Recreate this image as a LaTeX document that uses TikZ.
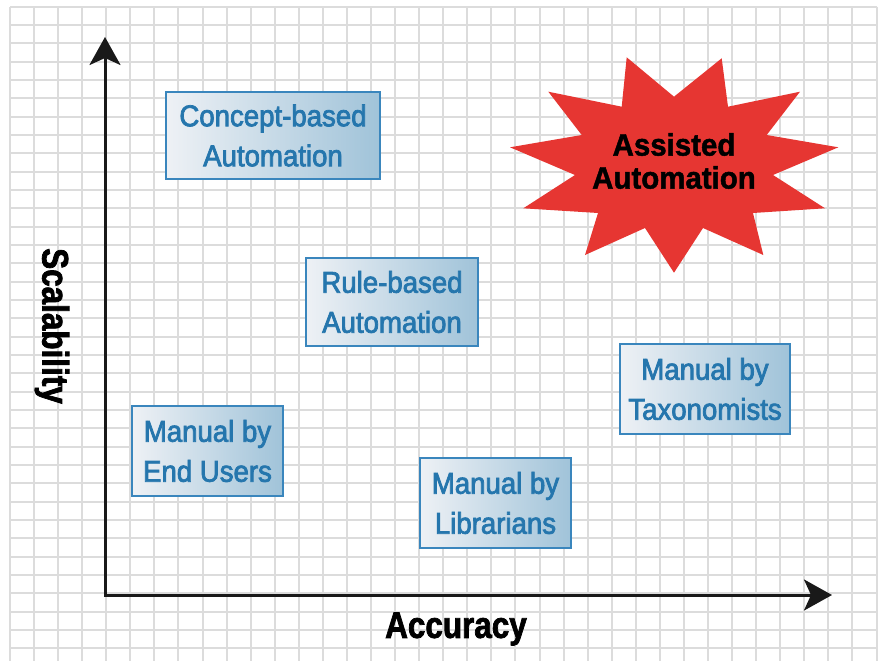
\documentclass[tikz,border=0pt]{standalone}
\usepackage{fontspec}
\setmainfont{Liberation Sans}
\newfontfamily\axisfont{Liberation Sans}[FakeStretch=0.85,FakeBold=2]
\newfontfamily\boxfont{Liberation Sans}[FakeStretch=0.92,FakeBold=2.5]
\newfontfamily\burstfont{Liberation Sans}[FakeStretch=0.95,FakeBold=1.5]
\usetikzlibrary{arrows.meta}

\definecolor{gridgray}{HTML}{DCDCDC}
\definecolor{boxline}{HTML}{3A86BD}
\definecolor{boxtext}{HTML}{2576AD}
\definecolor{boxleft}{HTML}{EEF1F5}
\definecolor{boxright}{HTML}{A0C3D9}
\definecolor{starred}{HTML}{E63632}

\begin{document}
\begin{tikzpicture}[x=1pt,y=-1pt,>={Stealth[length=28pt,width=31pt,inset=7pt]},
  gridline/.style={gridgray,line width=2pt},
  axis/.style={line width=3pt,black!90},
  axislabel/.style={font=\axisfont\bfseries\fontsize{37}{40}\selectfont},
  box/.style={draw=boxline,line width=2pt,left color=boxleft,right color=boxright,
    text=boxtext,align=center,inner sep=0pt,font=\boxfont\fontsize{30}{40}\selectfont}]
\useasboundingbox[fill=white] (0,0) rectangle (886,661);

% squared paper
\foreach \i in {0,...,36}
  \draw[gridline] (10+\i*24.07,6.7) -- (10+\i*24.07,661);
\foreach \j in {0,...,35}
  \draw[gridline] (10,6.7+\j*18.33) -- (877,6.7+\j*18.33);

% axes
\coordinate (o) at (105,595);
\coordinate (ytip) at (105,37);
\coordinate (xtip) at (832,595);
\draw[axis,<->] (ytip) -- (o) -- (xtip);
\node[axislabel] (acc) at (456,629) {Accuracy};
\node[axislabel,rotate=-90] (scal) at (52,326) {Scalability};

% approaches
\node[box,minimum width=214pt,minimum height=87pt] (concept) at (273,135.5) {Concept-based\\Automation};
\node[box,minimum width=172pt,minimum height=88pt] (rule) at (392,302) {Rule-based\\Automation};
\node[box,minimum width=151pt,minimum height=90pt] (users) at (207.5,451) {Manual by\\End Users};
\node[box,minimum width=151pt,minimum height=90pt] (libr) at (495.5,503) {Manual by\\Librarians};
\node[box,minimum width=170pt,minimum height=90pt] (taxo) at (705,389) {Manual by\\Taxonomists};

% burst
\fill[starred] (626.7,57.3) -- (674,96.7) -- (721.7,58.3) -- (728,106.7) -- (800,91.7)
  -- (766.7,135) -- (838.3,147.3) -- (773,175) -- (825,208.3) -- (753,213)
  -- (763.3,255) -- (703,228) -- (674,272.7) -- (645,228) -- (585,255)
  -- (598,213) -- (523.3,208.3) -- (575,175) -- (510,147.3) -- (581.7,135)
  -- (548.3,91.7) -- (621.7,106.7) -- cycle;
\node[align=center,font=\burstfont\bfseries\fontsize{31}{33}\selectfont] (assist) at (674,161) {Assisted\\Automation};
\end{tikzpicture}
\end{document}
